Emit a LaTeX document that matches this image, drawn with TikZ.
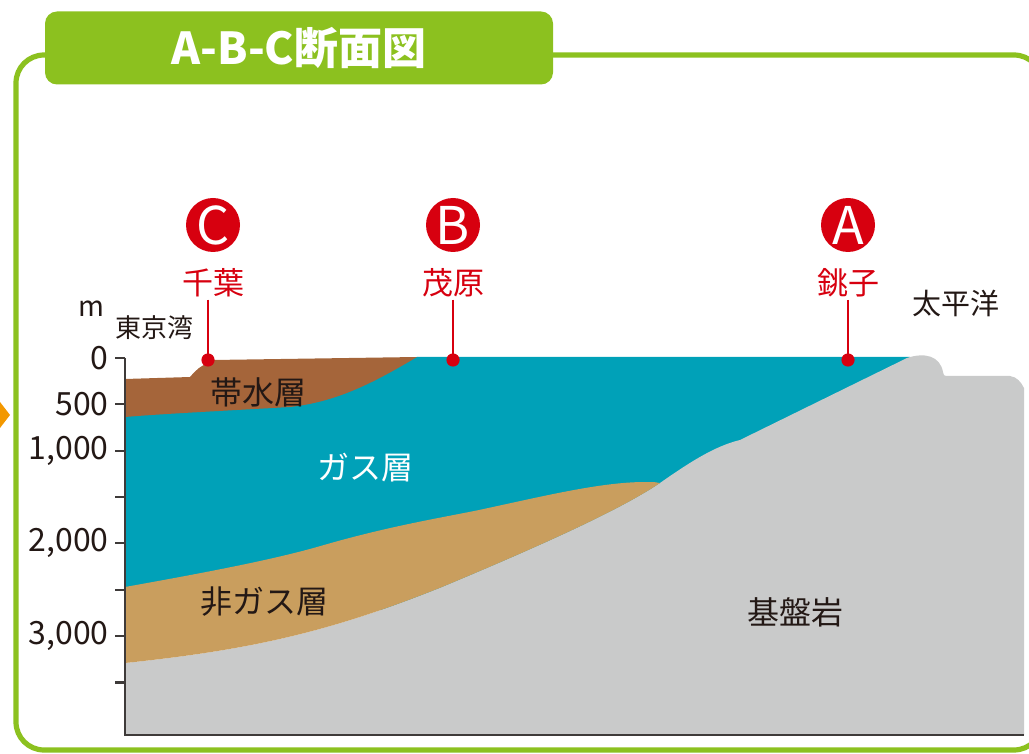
\documentclass[tikz,border=0pt]{standalone}
\usepackage{fontspec}
\setmainfont{Noto Sans CJK JP}
\usetikzlibrary{positioning}

\definecolor{framegreen}{HTML}{8CC11F}
\definecolor{arrowOrange}{HTML}{F39800}
\definecolor{siteRed}{HTML}{D7000F}
\definecolor{aquifer}{HTML}{A5653A}
\definecolor{gaslayer}{HTML}{00A1B8}
\definecolor{nongas}{HTML}{C99E5E}
\definecolor{bedrock}{HTML}{C9CACA}
\definecolor{inkgray}{HTML}{231815}
\definecolor{axisgray}{HTML}{3E3A39}

\begin{document}
\begin{tikzpicture}[x=0.5pt, y=-0.5pt, node distance=7pt]
    \tikzstyle{frame} = [draw=framegreen, line width=2.6pt, rounded corners=14pt]
    \tikzstyle{banner} = [fill=framegreen, rounded corners=6pt, minimum width=254pt, minimum height=36.5pt, text=white, font=\bfseries\fontsize{22}{22}\selectfont]
    \tikzstyle{sitemark} = [circle, fill=siteRed, text=white, minimum size=27pt, inner sep=0pt, font=\fontsize{26}{26}\selectfont]
    \tikzstyle{sitename} = [text=siteRed, inner sep=1pt, font=\fontsize{15.5}{16}\selectfont]
    \tikzstyle{guide} = [draw=siteRed, line width=1pt]
    \tikzstyle{layername} = [text=inkgray, inner sep=0pt, font=\fontsize{16}{16}\selectfont]
    \tikzstyle{placename} = [text=inkgray, inner sep=0pt, font=\fontsize{13}{13}\selectfont]
    \tikzstyle{depth} = [anchor=east, text=inkgray, inner sep=0pt, font=\fontsize{16}{16}\selectfont]
    \tikzstyle{axis} = [draw=axisgray, line width=1.1pt]

    \useasboundingbox (0,0) rectangle (1029,754);

    \fill[arrowOrange] (0,402) -- (10,415) -- (0,428) -- cycle;
    \draw[frame] (16,55) rectangle (1042,750);
    \node[banner] (title) at (299,48) {A-B-C断面図};

    \fill[gaslayer] (125,400) -- (417,357) -- (910,357) -- (910,610) -- (125,610) -- cycle;
    \fill[bedrock] (125,735) -- (125,663) .. controls (250,650) and (330,632) .. (442,587)
        .. controls (540,546) and (620,510) .. (660,483)
        .. controls (690,462) and (715,446) .. (740,440) -- (907,358)
        .. controls (925,352) and (940,356) .. (943,372) .. controls (944,376) .. (950,376)
        -- (1010,376) .. controls (1017,377) and (1021,382) .. (1024,388) -- (1024,735) -- cycle;
    \fill[nongas] (125,587) .. controls (220,570) and (280,558) .. (324,545)
        .. controls (390,526) and (440,518) .. (479,510)
        .. controls (540,497) and (600,482) .. (645,482) .. controls (655,482) .. (660,483)
        .. controls (620,510) and (540,546) .. (442,587)
        .. controls (330,632) and (250,650) .. (125,663) -- cycle;
    \fill[aquifer] (125,379) -- (190,377) .. controls (198,368) .. (213,360) -- (417,357)
        .. controls (370,385) and (335,402) .. (290,407)
        .. controls (220,411) and (160,414) .. (125,417) -- cycle;

    \draw[axis] (125,358) -- (125,735) -- (1024,735);
    \foreach \d in {0,500,...,3500}
        \draw[axis] (115,{358+\d*0.0927}) -- (125,{358+\d*0.0927});
    \foreach \d/\lbl in {0/0, 500/500, 1000/{1,000}, 2000/{2,000}, 3000/{3,000}}
        \node[depth] (depth\d) at (109,{358+\d*0.0927}) {\lbl};
    \node[depth, anchor=center, font=\fontsize{14}{14}\selectfont] (unit) at (91,309) {m};

    \node[placename] (bay) at (154,328) {東京湾};
    \node[placename, font=\fontsize{14.5}{14.5}\selectfont] (ocean) at (956,303) {太平洋};

    \node[layername] (aquiferlabel) at (258,392) {帯水層};
    \node[layername, text=white] (gaslabel) at (365,468) {ガス層};
    \node[layername] (nongaslabel) at (264,602) {非ガス層};
    \node[layername] (bedrocklabel) at (795,612) {基盤岩};

    \node[sitemark] (siteC) at (213,225) {C};
    \node[sitename, below=of siteC] (chiba) {千葉};
    \coordinate (dotC) at (208,360);
    \draw[guide] (chiba.south -| dotC) -- (dotC);
    \fill[siteRed] (dotC) circle (3.3pt);

    \node[sitemark] (siteB) at (453,225) {B};
    \node[sitename, below=of siteB] (mobara) {茂原};
    \coordinate (dotB) at (453,360);
    \draw[guide] (mobara.south -| dotB) -- (dotB);
    \fill[siteRed] (dotB) circle (3.3pt);

    \node[sitemark] (siteA) at (848,225) {A};
    \node[sitename, below=of siteA] (choshi) {銚子};
    \coordinate (dotA) at (848,360);
    \draw[guide] (choshi.south -| dotA) -- (dotA);
    \fill[siteRed] (dotA) circle (3.3pt);
\end{tikzpicture}
\end{document}
